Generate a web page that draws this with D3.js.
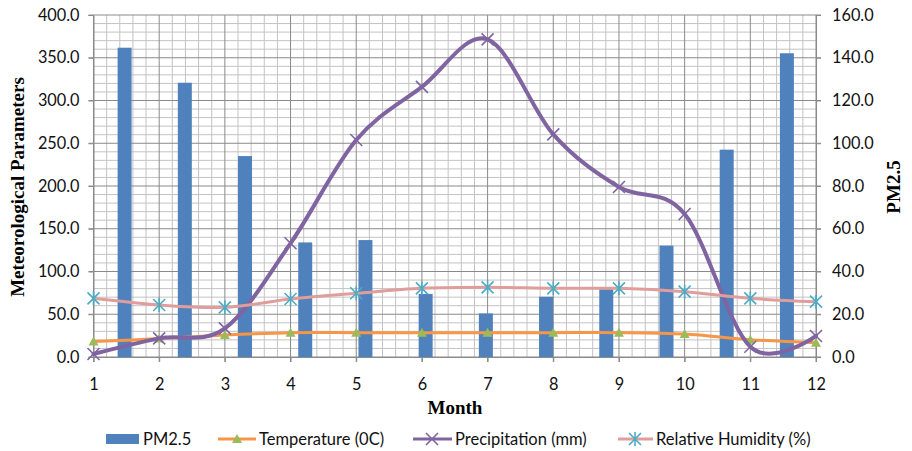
<!DOCTYPE html>
<html><head><meta charset="utf-8">
<script src="https://cdn.jsdelivr.net/npm/d3@7"></script>
<style>body{margin:0;background:#fff} svg{display:block}</style>
</head><body>
<svg id="chart" width="912" height="451"></svg>
<script>
// ---- data ----
const months = [1,2,3,4,5,6,7,8,9,10,11,12];
const pm25 = [144.7,128.3,94.0,53.6,54.7,29.5,20.4,28.2,31.7,52.1,97.0,142.1];
const temperature = [18.0,21.5,25.7,28.5,28.5,28.5,28.5,28.5,28.5,26.8,20.3,16.8];
const precipitation = [3.5,21.8,33.5,133.0,253.8,316.0,371.5,260.4,198.8,167.3,12.0,24.6];
const humidity = [68.6,60.8,58.1,67.8,74.5,80.3,81.5,80.3,80.3,76.4,68.6,64.7];
const leftTicks = [0,50,100,150,200,250,300,350,400];
const rightTicks = [0,20,40,60,80,100,120,140,160];
const seriesNames = ["PM2.5","Temperature (0C)","Precipitation (mm)","Relative Humidity (%)"];

// ---- layout ----
const svg = d3.select("#chart");
const L = 93.5, R = 816, T = 15, B = 357;
const x = d3.scaleLinear().domain([1,12]).range([L,R]);
const xb = d3.scaleBand().domain(months).range([L,R]);
const yL = d3.scaleLinear().domain([0,400]).range([B,T]);
const yR = d3.scaleLinear().domain([0,160]).range([B,T]);

const minorC = "#c3c3c3", majorC = "#8a8a8a";
const g = svg.append("g");

// minor gridlines
const vMinor = d3.range(1,12.001,0.2).filter(v => Math.abs(v-Math.round(v))>1e-6);
g.selectAll(".vmin").data(vMinor).enter().append("line")
  .attr("x1",d=>x(d)).attr("x2",d=>x(d)).attr("y1",T).attr("y2",B)
  .attr("stroke",minorC).attr("stroke-width",1);
const hMinor = d3.range(0,401,10).filter(v => v%50!==0);
g.selectAll(".hmin").data(hMinor).enter().append("line")
  .attr("x1",L).attr("x2",R).attr("y1",d=>yL(d)).attr("y2",d=>yL(d))
  .attr("stroke",minorC).attr("stroke-width",1);
// major gridlines
g.selectAll(".vmaj").data(months).enter().append("line")
  .attr("x1",d=>x(d)).attr("x2",d=>x(d)).attr("y1",T).attr("y2",B+5)
  .attr("stroke",majorC).attr("stroke-width",1);
g.selectAll(".hmaj").data(leftTicks).enter().append("line")
  .attr("x1",L-5).attr("x2",R+5).attr("y1",d=>yL(d)).attr("y2",d=>yL(d))
  .attr("stroke",majorC).attr("stroke-width",1);

// axes
const tickFont = "Lato, 'Open Sans', sans-serif";
const axL = svg.append("g").attr("transform",`translate(${L},0)`)
  .call(d3.axisLeft(yL).tickValues(leftTicks).tickFormat(d3.format(".1f")).tickSize(5).tickPadding(9));
const axR = svg.append("g").attr("transform",`translate(${R},0)`)
  .call(d3.axisRight(yR).tickValues(rightTicks).tickFormat(d3.format(".1f")).tickSize(5).tickPadding(11));
const axB = svg.append("g").attr("transform",`translate(0,${B})`)
  .call(d3.axisBottom(x).tickValues(months).tickFormat(d3.format("d")).tickSize(5).tickPadding(16));
[axL,axR,axB].forEach(a=>{
  a.selectAll(".domain").attr("stroke",majorC);
  a.selectAll(".tick line").attr("stroke",majorC);
  a.selectAll("text").attr("fill","#111").style("font-family",tickFont).style("font-size","16.3px");
});

// bars (PM2.5, right axis)
const barW = 14;
svg.append("g").selectAll("rect").data(months).enter().append("rect")
  .attr("x",(d,i)=>xb(d)+xb.bandwidth()/2-barW/2+1)
  .attr("width",barW)
  .attr("y",(d,i)=>yR(pm25[i]))
  .attr("height",(d,i)=>B-yR(pm25[i]))
  .attr("fill","#4f81bd");

const curve = d3.curveCardinal.tension(0);
function lineSeries(vals,color,w){
  const ln = d3.line().x((d,i)=>x(months[i])).y(d=>yL(d)).curve(curve);
  svg.append("path").attr("d",ln(vals)).attr("fill","none").attr("stroke",color)
    .attr("stroke-width",w).attr("stroke-linecap","round");
}
function triangle(sel,cx,cy){
  sel.append("path").attr("d",`M${cx},${cy-5}L${cx+5},${cy+4}L${cx-5},${cy+4}Z`).attr("fill","#9bbb59");
}
function cross(sel,cx,cy){
  sel.append("path").attr("d",`M${cx-6},${cy-6}L${cx+6},${cy+6}M${cx-6},${cy+6}L${cx+6},${cy-6}`)
    .attr("stroke","#8064a2").attr("stroke-width",1.6).attr("fill","none");
}
function star(sel,cx,cy){
  sel.append("path").attr("d",`M${cx-6},${cy-6}L${cx+6},${cy+6}M${cx-6},${cy+6}L${cx+6},${cy-6}M${cx},${cy-7}L${cx},${cy+7}`)
    .attr("stroke","#4bacc6").attr("stroke-width",1.6).attr("fill","none");
}
lineSeries(temperature,"#f79646",3);
temperature.forEach((v,i)=>triangle(svg,x(months[i]),yL(v)));
lineSeries(precipitation,"#8064a2",4);
precipitation.forEach((v,i)=>cross(svg,x(months[i]),yL(v)));
lineSeries(humidity,"#df9e9c",3);
humidity.forEach((v,i)=>star(svg,x(months[i]),yL(v)));

// titles
const serif = "'Liberation Serif','Times New Roman',serif";
svg.append("text").attr("transform","translate(17,187) rotate(-90)")
  .attr("text-anchor","middle").attr("dominant-baseline","central")
  .style("font-family",serif).style("font-weight","bold").style("font-size","19px")
  .text("Meteorological Parameters");
svg.append("text").attr("transform","translate(893,187) rotate(-90)")
  .attr("text-anchor","middle").attr("dominant-baseline","central")
  .style("font-family",serif).style("font-weight","bold").style("font-size","19px")
  .text("PM2.5");
svg.append("text").attr("x",455).attr("y",407)
  .attr("text-anchor","middle").attr("dominant-baseline","central")
  .style("font-family",serif).style("font-weight","bold").style("font-size","19px")
  .text("Month");

// legend
const ly = 439;
const leg = svg.append("g").style("font-family",tickFont).style("font-size","16.5px").attr("fill","#111");
leg.append("rect").attr("x",106).attr("y",ly-5).attr("width",33).attr("height",10).attr("fill","#4f81bd");
leg.append("text").attr("x",143).attr("y",ly).attr("dominant-baseline","central").text(seriesNames[0]);
leg.append("line").attr("x1",218).attr("x2",256).attr("y1",ly).attr("y2",ly).attr("stroke","#f79646").attr("stroke-width",3);
triangle(leg,237,ly);
leg.append("text").attr("x",259).attr("y",ly).attr("dominant-baseline","central").text(seriesNames[1]);
leg.append("line").attr("x1",413).attr("x2",452).attr("y1",ly).attr("y2",ly).attr("stroke","#8064a2").attr("stroke-width",3);
cross(leg,432,ly);
leg.append("text").attr("x",455).attr("y",ly).attr("dominant-baseline","central").text(seriesNames[2]);
leg.append("line").attr("x1",618).attr("x2",653).attr("y1",ly).attr("y2",ly).attr("stroke","#df9e9c").attr("stroke-width",3);
star(leg,635,ly);
leg.append("text").attr("x",656).attr("y",ly).attr("dominant-baseline","central").text(seriesNames[3]);
</script>
</body></html>
